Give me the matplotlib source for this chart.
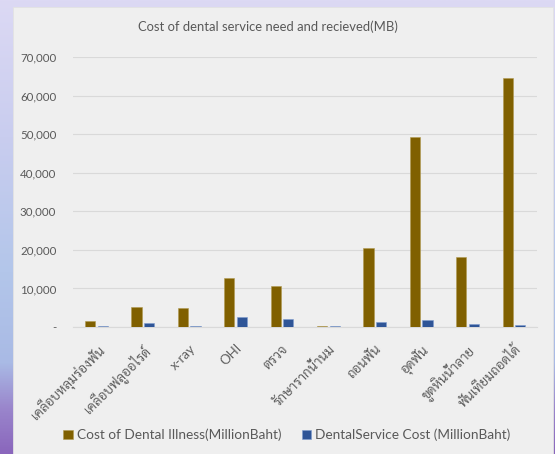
import numpy as np
import matplotlib
matplotlib.use("Agg")
import matplotlib.pyplot as plt
from matplotlib.colors import LinearSegmentedColormap
from matplotlib.patches import Rectangle
from matplotlib.ticker import FuncFormatter

plt.rcParams['font.family'] = ['Lato', 'Sarabun', 'Noto Sans Thai Looped', 'Noto Sans Thai',
                               'Bai Jamjuree', 'DejaVu Sans']

categories = ["เคลือบหลุมร่องฟัน", "เคลือบฟลูออไรด์", "x-ray", "OHI", "ตรวจ",
              "รักษารากน้ำนม", "ถอนฟัน", "อุดฟัน", "ขูดหินน้ำลาย", "ฟันเทียมถอดได้"]
illness_cost = [1600, 5200, 4900, 12650, 10650, 350, 20600, 49300, 18100, 64600]
service_cost = [300, 1000, 300, 2700, 2150, 350, 1200, 1700, 800, 450]
series_names = ["Cost of Dental Illness(MillionBaht)", "DentalService Cost (MillionBaht)"]
title = "Cost of dental service need and recieved(MB)"

W, H = 555, 454
fig = plt.figure(figsize=(W / 100, H / 100), dpi=100)

# slide background gradient
bg = fig.add_axes([0, 0, 1, 1])
cmap = LinearSegmentedColormap.from_list(
    "slide", [(0.0, "#dcd9f4"), (0.3, "#c9cdef"), (0.6, "#b3c6ea"),
              (0.8, "#a9bae5"), (0.9, "#9a86cc"), (1.0, "#8a66bc")])
grad = np.linspace(0, 1, 256).reshape(-1, 1)
bg.imshow(grad, aspect="auto", cmap=cmap, extent=[0, 1, 0, 1], origin="upper")
bg.set_xlim(0, 1)
bg.set_ylim(0, 1)
bg.axis("off")

# chart panel
panel = Rectangle((13 / W, 0), (553 - 13) / W, (H - 7) / H, transform=fig.transFigure,
                  facecolor="#efefef", edgecolor="#e2e2e2", lw=0.6, zorder=1)
fig.patches.append(panel)

ax = fig.add_axes([73 / W, 1 - 327 / H, (537 - 73) / W, (327 - 57) / H])
ax.set_facecolor("none")
ax.set_zorder(2)

x = np.arange(len(categories))
w = 0.22
gold = "#806000"
blue = "#2f5597"
ax.bar(x - 0.13, illness_cost, w, color=gold, edgecolor="#b09a50", lw=0.4,
       label=series_names[0], zorder=3)
ax.bar(x + 0.14, service_cost, w, color=blue, edgecolor="#7f9cd0", lw=0.4,
       label=series_names[1], zorder=3)

ax.set_xlim(-0.5, len(categories) - 0.5)
ax.set_ylim(0, 70000)
ax.set_yticks(np.arange(0, 70001, 10000))
ax.yaxis.set_major_formatter(FuncFormatter(lambda v, p: "-" if v == 0 else f"{int(v):,}"))
ax.grid(axis="y", color="#d9d9d9", lw=0.8, zorder=0)
ax.set_axisbelow(True)
for s in ["top", "right", "left"]:
    ax.spines[s].set_visible(False)
ax.spines["bottom"].set_color("#d9d9d9")
ax.tick_params(axis="y", length=0, pad=12, labelsize=8.3, labelcolor="#595959")
ax.tick_params(axis="x", length=0, pad=11, labelsize=9.5, labelcolor="#5f5f5f")
ax.set_xticks(x)
ax.set_xticklabels(categories, rotation=45, ha="right", rotation_mode="anchor")

fig.text(268 / W, 1 - 27 / H, title, ha="center", va="center", fontsize=9.4,
         color="#595959")

fig.legend(loc="center", bbox_to_anchor=(287 / W, 1 - 435 / H), ncol=2, frameon=False,
           fontsize=9.8, labelcolor="#595959", handlelength=0.7, handleheight=0.7,
           handletextpad=0.3, columnspacing=1.5)

fig.savefig("out.png", dpi=100)
